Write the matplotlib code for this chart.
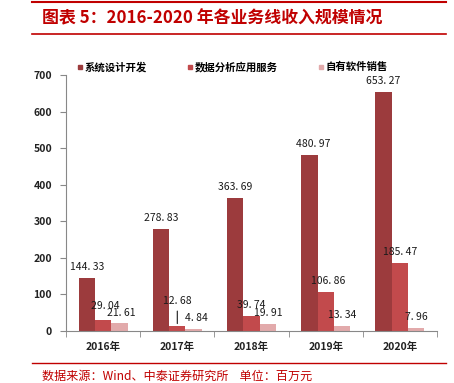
import matplotlib
matplotlib.use("Agg")
import matplotlib.pyplot as plt
from matplotlib.lines import Line2D
import numpy as np

plt.rcParams['font.family'] = ['Noto Sans CJK SC', 'DejaVu Sans']

categories = ["2016年", "2017年", "2018年", "2019年", "2020年"]
series_names = ["系统设计开发", "数据分析应用服务", "自有软件销售"]
sys_dev = [144.33, 278.83, 363.69, 480.97, 653.27]
data_svc = [29.04, 12.68, 39.74, 106.86, 185.47]
sw_sales = [21.61, 4.84, 19.91, 13.34, 7.96]
yticks = [0, 100, 200, 300, 400, 500, 600, 700]
title = "图表 5：2016-2020 年各业务线收入规模情况"
source = "数据来源：Wind、中泰证券研究所    单位：百万元"

colors = ["#9C3B3D", "#C24A4C", "#E2AAAB"]
series = [sys_dev, data_svc, sw_sales]

fig = plt.figure(figsize=(4.54, 3.83), dpi=100)
ax = fig.add_axes([66/454, 1-331/383, (437-66)/454, (331-75)/383])

x = np.arange(len(categories))
w = 0.22
red = "#C00000"

# label offsets (points): (dx, dy) from bar top
offsets = [
    [(0, 8), (0, 8), (0, 8), (3, 8), (0, 8)],
    [(1.5, 10), (0, 18), (0, 8), (2, 8), (0, 8)],
    [(1, 7), (2, 8), (0, 8), (0, 8), (0, 8)],
]

for i, (vals, c) in enumerate(zip(series, colors)):
    pos = x + (i - 1) * w
    bars = ax.bar(pos, vals, width=w, color=c, zorder=2)
    for j, (b, v) in enumerate(zip(bars, vals)):
        dx, dy = offsets[i][j]
        xc = b.get_x() + b.get_width() / 2
        ax.annotate(f"{v:.2f}".replace(".", ". "), xy=(xc, v), xytext=(dx, dy),
                    textcoords="offset points", ha="center", va="center",
                    fontsize=7.5, color="#1a1a1a", zorder=3)
        if i == 1 and j == 1:
            ax.annotate("", xy=(xc, v), xytext=(0, 13), textcoords="offset points",
                        arrowprops=dict(arrowstyle="-", color="#1a1a1a", lw=0.8))

ax.set_xlim(-0.5, len(categories) - 0.5)
ax.set_ylim(0, 700)
ax.set_yticks(yticks)
ax.set_yticklabels([str(t) for t in yticks], fontsize=7.5, fontweight="bold", color="#222222")
ax.set_xticks(x)
ax.set_xticklabels(categories, fontsize=7.5, fontweight="bold", color="#222222")
ax.set_xticks(np.arange(-0.5, len(categories), 1), minor=True)
ax.tick_params(axis="x", which="major", length=0, pad=8)
ax.tick_params(axis="x", which="minor", length=4, color="#888888", direction="out")
ax.tick_params(axis="y", length=4, color="#888888", direction="out", pad=6)
for s in ["top", "right"]:
    ax.spines[s].set_visible(False)
for s in ["left", "bottom"]:
    ax.spines[s].set_color("#888888")
    ax.spines[s].set_linewidth(0.8)

handles = [Line2D([], [], marker="s", linestyle="none", markersize=3.5,
                  markerfacecolor=c, markeredgecolor=c) for c in colors]
leg = fig.legend(handles, series_names, loc="center left", bbox_to_anchor=(67/454, 1-67/383),
                 ncol=3, frameon=False, handlelength=0.6, handletextpad=0.2,
                 columnspacing=3.8, prop={"weight": "bold", "size": 7.5})

# decorative lines and texts
fig.add_artist(Line2D([32/454, 446/454], [1-1.5/383, 1-1.5/383], color=red, lw=1.5))
fig.add_artist(Line2D([32/454, 446/454], [1-34/383, 1-34/383], color=red, lw=1.2))
fig.add_artist(Line2D([32/454, 446/454], [1-363/383, 1-363/383], color=red, lw=1.0))
fig.text(42/454, 1-18/383, title, color=red, fontsize=12.2, fontweight="bold", va="center", ha="left")
fig.text(42/454, 1-376/383, source, color=red, fontsize=8.7, va="center", ha="left")

fig.savefig("out.png", dpi=100)
